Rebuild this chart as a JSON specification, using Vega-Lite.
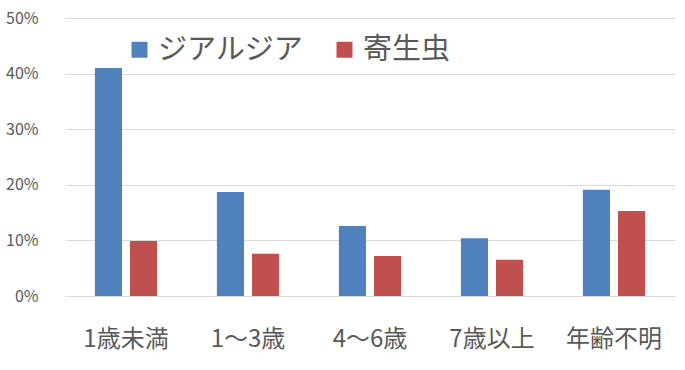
{
  "$schema": "https://vega.github.io/schema/vega-lite/v6.json",
  "width": 610,
  "height": 278,
  "autosize": "none",
  "padding": {"left": 65, "top": 18, "right": 10, "bottom": 74},
  "background": "white",
  "config": {
    "font": "Noto Sans CJK JP",
    "view": {"stroke": null}
  },
  "data": {
    "values": [
      {"age": "1歳未満", "type": "ジアルジア", "value": 0.41},
      {"age": "1歳未満", "type": "寄生虫", "value": 0.099},
      {"age": "1～3歳", "type": "ジアルジア", "value": 0.187},
      {"age": "1～3歳", "type": "寄生虫", "value": 0.076},
      {"age": "4～6歳", "type": "ジアルジア", "value": 0.126},
      {"age": "4～6歳", "type": "寄生虫", "value": 0.072},
      {"age": "7歳以上", "type": "ジアルジア", "value": 0.104},
      {"age": "7歳以上", "type": "寄生虫", "value": 0.065},
      {"age": "年齢不明", "type": "ジアルジア", "value": 0.191},
      {"age": "年齢不明", "type": "寄生虫", "value": 0.153}
    ]
  },
  "mark": {"type": "bar"},
  "encoding": {
    "x": {
      "field": "age",
      "type": "nominal",
      "sort": null,
      "scale": {"paddingInner": 0.49, "paddingOuter": 0.245},
      "axis": {
        "title": null,
        "labelAngle": 0,
        "labelFontSize": 24,
        "labelColor": "#595959",
        "labelPadding": 31,
        "ticks": false,
        "domainColor": "#D9D9D9",
        "domainWidth": 1
      }
    },
    "xOffset": {
      "field": "type",
      "type": "nominal",
      "scale": {"paddingInner": 0.2286, "paddingOuter": 0}
    },
    "y": {
      "field": "value",
      "type": "quantitative",
      "scale": {"domain": [0, 0.5], "nice": false},
      "axis": {
        "title": null,
        "format": ".0%",
        "values": [0, 0.1, 0.2, 0.3, 0.4, 0.5],
        "labelFontSize": 16,
        "labelColor": "#595959",
        "labelPadding": 27,
        "ticks": false,
        "domain": false,
        "gridColor": "#D9D9D9",
        "gridWidth": 1
      }
    },
    "color": {
      "field": "type",
      "type": "nominal",
      "scale": {"domain": ["ジアルジア", "寄生虫"], "range": ["#4F81BD", "#C0504D"]},
      "legend": {
        "title": null,
        "orient": "none",
        "legendX": 60,
        "legendY": 17,
        "direction": "horizontal",
        "columns": 2,
        "columnPadding": 26,
        "symbolType": "square",
        "symbolSize": 256,
        "symbolStrokeWidth": 0,
        "labelFontSize": 29,
        "labelColor": "#595959",
        "labelOffset": 4
      }
    }
  }
}
